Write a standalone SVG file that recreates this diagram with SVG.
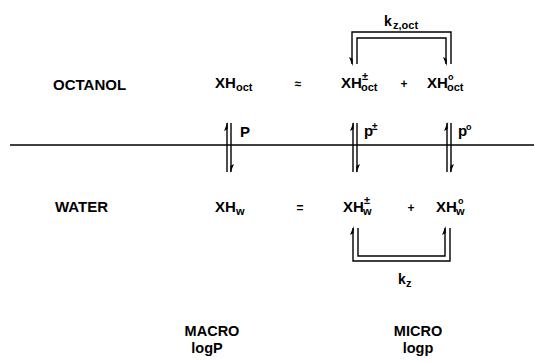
<svg xmlns="http://www.w3.org/2000/svg" width="534" height="363" viewBox="0 0 534 363">
<style>
text{font-family:"Liberation Sans",Arial,sans-serif;font-weight:bold;fill:#000}
.m{font-size:15px}
.s{font-size:11px}
.c{text-anchor:middle}
.b{font-size:14.5px}
.ln{stroke:#000;stroke-width:1.4;fill:none}
.hd{fill:#000;stroke:none}
</style>
<rect width="534" height="363" fill="#fff"/>
<g id="label-octanol"><text class="m" x="53" y="90">OCTANOL</text></g>
<g id="label-water"><text class="m" x="55" y="212">WATER</text></g>
<g id="xh-oct"><text class="m" x="215" y="88">XH</text><text class="s" x="236" y="91">oct</text></g>
<g id="approx"><text class="m c" x="298" y="88" style="font-size:12px">≈</text></g>
<g id="xh-oct-plus"><text class="m" x="341" y="88">XH</text><text class="s" x="361" y="91">oct</text><text class="s" x="362" y="80">±</text></g>
<g id="plus-oct"><text class="m c" x="404" y="88" style="font-size:12px">+</text></g>
<g id="xh-oct-zero"><text class="m" x="427" y="88">XH</text><text class="s" x="447" y="91">oct</text><text class="s" x="448" y="80" style="font-size:9px">o</text></g>
<g id="kz-oct"><text class="m" x="384" y="26" style="font-size:14px">k</text><text class="s" x="393" y="29">z,oct</text></g>
<g id="xh-w"><text class="m" x="215" y="212">XH</text><text class="s" x="236" y="215">w</text></g>
<g id="equals"><text class="m c" x="300" y="212" style="font-size:12px">=</text></g>
<g id="xh-w-plus"><text class="m" x="343" y="212">XH</text><text class="s" x="363" y="215">w</text><text class="s" x="364" y="204">±</text></g>
<g id="plus-w"><text class="m c" x="411" y="212" style="font-size:12px">+</text></g>
<g id="xh-w-zero"><text class="m" x="436" y="212">XH</text><text class="s" x="456" y="215">w</text><text class="s" x="458" y="204" style="font-size:9px">o</text></g>
<g id="kz"><text class="m" x="398" y="284" style="font-size:14px">k</text><text class="s" x="406" y="287">z</text></g>
<g id="label-P"><text class="m" x="240" y="137">P</text></g>
<g id="label-p-plus"><text class="m" x="364" y="136">p</text><text class="s" x="372" y="130" style="font-size:10px">±</text></g>
<g id="label-p-zero"><text class="m" x="458" y="136">p</text><text class="s" x="466" y="130" style="font-size:9px">o</text></g>
<g id="macro"><text class="b c" x="212" y="336">MACRO</text><text class="b c" x="207" y="353">logP</text></g>
<g id="micro"><text class="b c" x="418" y="336">MICRO</text><text class="b c" x="418" y="353">logp</text></g>
<g id="connectors">
<line class="ln" x1="10" y1="145" x2="534" y2="145" stroke-width="1.6"/>
<line class="ln" x1="227" y1="123" x2="227" y2="172"/>
<line class="ln" x1="231" y1="123" x2="231" y2="172"/>
<polygon class="hd" points="227.7,122 224,131 227.7,129"/>
<polygon class="hd" points="230.3,173 234,164 230.3,166"/>
<line class="ln" x1="353" y1="123" x2="353" y2="172"/>
<line class="ln" x1="357" y1="123" x2="357" y2="172"/>
<polygon class="hd" points="353.7,122 350,131 353.7,129"/>
<polygon class="hd" points="356.3,173 360,164 356.3,166"/>
<line class="ln" x1="447" y1="123" x2="447" y2="172"/>
<line class="ln" x1="451" y1="123" x2="451" y2="172"/>
<polygon class="hd" points="447.7,122 444,131 447.7,129"/>
<polygon class="hd" points="450.3,173 454,164 450.3,166"/>
<polyline class="ln" points="352,64 352,32 451,32 451,64"/>
<polyline class="ln" points="357,64 357,38 446,38 446,64"/>
<polygon class="hd" points="352.7,66 349,57 352.7,59"/>
<polygon class="hd" points="446.7,66 443,57 446.7,59"/>
<polyline class="ln" points="353,228 353,261 450,261 450,228"/>
<polyline class="ln" points="358,228 358,256 445,256 445,228"/>
<polygon class="hd" points="353.7,226 350,235 353.7,233"/>
<polygon class="hd" points="445.7,226 442,235 445.7,233"/>
</g>
</svg>
